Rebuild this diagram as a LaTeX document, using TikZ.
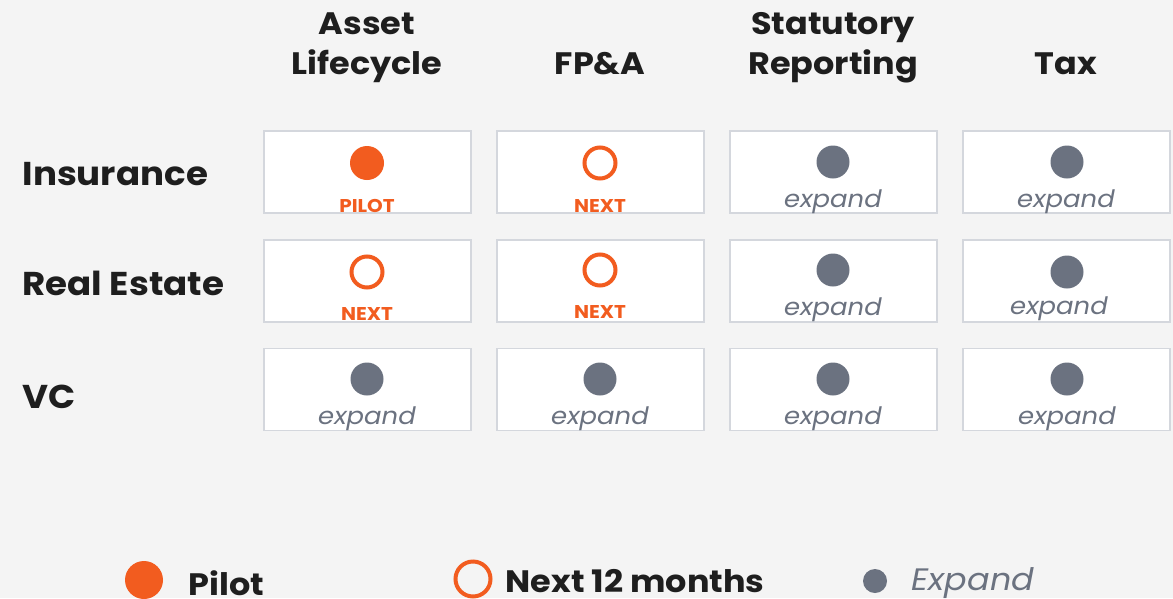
\documentclass[tikz,border=0pt]{standalone}
\usepackage{fontspec}
\setmainfont{Poppins}[FakeStretch=1.08]
\definecolor{bg}{HTML}{F4F4F4}
\definecolor{orng}{HTML}{F25C1F}
\definecolor{dotgray}{HTML}{6B7280}
\definecolor{ink}{HTML}{1E1E1E}
\definecolor{cellline}{HTML}{D4D7DD}
\begin{document}
\begin{tikzpicture}[x=1pt,y=-1pt,
  cell/.style={draw=cellline,line width=1.2pt,fill=white,minimum width=207pt,minimum height=82pt,inner sep=0pt},
  head/.style={font=\fontsize{31}{40}\selectfont\bfseries,text=ink,align=center},
  rowlab/.style={font=\fontsize{33}{36}\selectfont\bfseries,text=ink,anchor=west},
  pilotdot/.style={circle,fill=orng,minimum size=34pt,inner sep=0pt},
  nextring/.style={circle,draw=orng,line width=4pt,minimum size=31pt,inner sep=0pt},
  expdot/.style={circle,fill=dotgray,minimum size=33pt,inner sep=0pt},
  tag/.style={font=\fontsize{18.5}{20}\selectfont\bfseries,text=orng},
  exptag/.style={font=\fontsize{24}{26}\selectfont\itshape,text=dotgray},
  legtext/.style={font=\fontsize{31}{34}\selectfont\bfseries,text=ink,anchor=west}]
\fill[bg] (0,0) rectangle (1173,598);
\useasboundingbox (0,0) rectangle (1173,598);
% headers
\node[head] (h1) at (367,48) {Asset\\Lifecycle};
\node[head] (h2) at (600,64) {FP\&A};
\node[head] (h3) at (833,48) {Statutory\\Reporting};
\node[head] (h4) at (1066,64) {Tax};
% row labels
\node[rowlab] (r1) at (19,174) {Insurance};
\node[rowlab] (r2) at (19,283) {Real Estate};
\node[rowlab] (r3) at (19,397) {VC};
% cells
\foreach \c/\x in {1/367.5,2/600.5,3/833.5,4/1066.5}{
  \foreach \r/\y in {1/172,2/281,3/389.5}{
    \node[cell] (c\r\c) at (\x,\y) {};
  }
}
% row 1
\node[pilotdot] (m11) at (367,163) {};
\node[tag] (t11) at (367,206) {PILOT};
\node[nextring] (m12) at (600,163) {};
\node[tag] (t12) at (600,206) {NEXT};
\node[expdot] (m13) at (833,162) {};
\node[exptag] (t13) at (833,202) {expand};
\node[expdot] (m14) at (1067,162) {};
\node[exptag] (t14) at (1066,202) {expand};
% row 2
\node[nextring] (m21) at (367,272) {};
\node[tag] (t21) at (367,314) {NEXT};
\node[nextring] (m22) at (600,270) {};
\node[tag] (t22) at (600,312) {NEXT};
\node[expdot] (m23) at (833,270) {};
\node[exptag] (t23) at (833,310) {expand};
\node[expdot] (m24) at (1067,272) {};
\node[exptag] (t24) at (1059,309) {expand};
% row 3
\foreach \c/\x in {1/367,2/600,3/833,4/1067}{
  \node[expdot] (m3\c) at (\x,379) {};
  \node[exptag] (t3\c) at (\x,419) {expand};
}
% legend
\node[circle,fill=orng,minimum size=38pt,inner sep=0pt] (l1) at (144,580) {};
\node[legtext] (lt1) at (185,583) {Pilot};
\node[circle,draw=orng,line width=4pt,minimum size=35pt,inner sep=0pt] (l2) at (473,579) {};
\node[legtext] (lt2) at (502,581) {Next 12 months};
\node[circle,fill=dotgray,minimum size=24pt,inner sep=0pt] (l3) at (875,581) {};
\node[legtext,font=\fontsize{31}{34}\selectfont\itshape,text=dotgray] (lt3) at (908,583) {Expand};
\end{tikzpicture}
\end{document}
